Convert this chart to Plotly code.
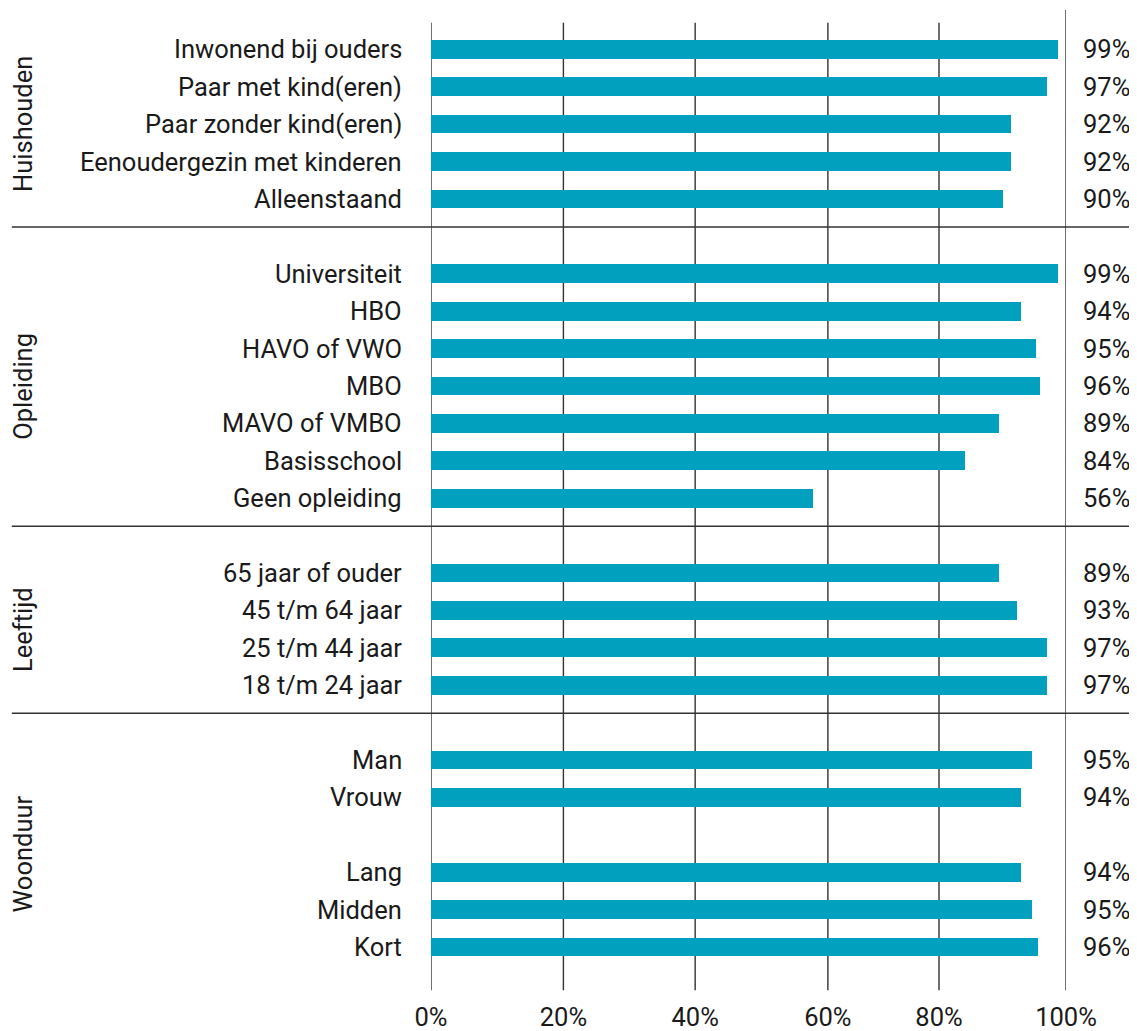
import plotly.graph_objects as go

# ---- data ----
groups = ["Huishouden", "Opleiding", "Leeftijd", "Woonduur"]

huishouden_cat = ["Inwonend bij ouders", "Paar met kind(eren)", "Paar zonder kind(eren)",
                  "Eenoudergezin met kinderen", "Alleenstaand"]
huishouden_val = [98.7, 97.0, 91.3, 91.3, 90.1]
huishouden_lbl = ["99%", "97%", "92%", "92%", "90%"]

opleiding_cat = ["Universiteit", "HBO", "HAVO of VWO", "MBO", "MAVO of VMBO",
                 "Basisschool", "Geen opleiding"]
opleiding_val = [98.7, 92.9, 95.3, 95.9, 89.5, 84.1, 60.2]
opleiding_lbl = ["99%", "94%", "95%", "96%", "89%", "84%", "56%"]

leeftijd_cat = ["65 jaar of ouder", "45 t/m 64 jaar", "25 t/m 44 jaar", "18 t/m 24 jaar"]
leeftijd_val = [89.5, 92.3, 97.0, 97.0]
leeftijd_lbl = ["89%", "93%", "97%", "97%"]

woonduur_cat_a = ["Man", "Vrouw"]
woonduur_val_a = [94.7, 92.9]
woonduur_lbl_a = ["95%", "94%"]
woonduur_cat_b = ["Lang", "Midden", "Kort"]
woonduur_val_b = [92.9, 94.7, 95.6]
woonduur_lbl_b = ["94%", "95%", "96%"]

tick_labels = ["0%", "20%", "40%", "60%", "80%", "100%"]
grid_pos = [0, 20.85, 41.6, 62.5, 80.0, 100]   # where the reference draws its grid lines

# ---- build rows (blank row between subgroups / groups) ----
group_blocks = [
    [(huishouden_cat, huishouden_val, huishouden_lbl)],
    [(opleiding_cat, opleiding_val, opleiding_lbl)],
    [(leeftijd_cat, leeftijd_val, leeftijd_lbl)],
    [(woonduur_cat_a, woonduur_val_a, woonduur_lbl_a),
     (woonduur_cat_b, woonduur_val_b, woonduur_lbl_b)],
]

rows_y, rows_cat, rows_val, rows_lbl = [], [], [], []
group_rows = []
r = 0
for gi, blocks in enumerate(group_blocks):
    start = r
    for bi, (cats, vals, lbls) in enumerate(blocks):
        if bi > 0:
            r += 1
        for c, v, l in zip(cats, vals, lbls):
            rows_y.append(r); rows_cat.append(c); rows_val.append(v); rows_lbl.append(l)
            r += 1
    group_rows.append((start, r - 1))
    r += 1

FONT = "Roboto"
TXT = "#1a1a1a"
LINE = "#333333"
FS = 25.5

fig = go.Figure(go.Bar(
    x=rows_val, y=rows_y, orientation="h", width=0.5,
    marker=dict(color="#00A0BE", line=dict(width=0)),
    hoverinfo="skip",
))

OFF = 8            # page body margin of the html page
W, H = 1137 - OFF, 1031 - OFF
L, R = 430.5 - OFF, 1066 - OFF
T, B = 10 - OFF, 992 - OFF
ppx = R - L

def px_to_paper_x(px):
    return (px - OFF - L) / ppx

shapes = []
# vertical grid lines
for i, g in enumerate(grid_pos):
    shapes.append(dict(type="line", xref="x", yref="y", x0=g, x1=g,
                       y0=-1.05 if g == grid_pos[-1] else -0.71, y1=25.15,
                       line=dict(color=LINE, width=1.4), layer="below"))
# horizontal separators between groups
for (s, e) in group_rows[:-1]:
    shapes.append(dict(type="line", xref="paper", yref="y",
                       x0=px_to_paper_x(11), x1=px_to_paper_x(1140),
                       y0=e + 0.75, y1=e + 0.75,
                       line=dict(color=LINE, width=1.6)))

annotations = []
for y, c, l in zip(rows_y, rows_cat, rows_lbl):
    annotations.append(dict(x=px_to_paper_x(403), xref="paper", y=y, yref="y",
                            text=c, showarrow=False, xanchor="right", yanchor="middle",
                            font=dict(family=FONT, size=FS, color=TXT)))
    annotations.append(dict(x=px_to_paper_x(1132), xref="paper", y=y, yref="y",
                            text=l, showarrow=False, xanchor="right", yanchor="middle",
                            font=dict(family=FONT, size=FS, color=TXT)))
for gname, (s, e) in zip(groups, group_rows):
    annotations.append(dict(x=px_to_paper_x(22), xref="paper", y=(s + e) / 2, yref="y",
                            text=gname, showarrow=False, textangle=-90,
                            xanchor="center", yanchor="middle",
                            font=dict(family=FONT, size=FS, color=TXT)))

fig.update_layout(
    width=W, height=H,
    margin=dict(l=L, r=W - R, t=T, b=H - B, pad=0, autoexpand=False),
    paper_bgcolor="white", plot_bgcolor="white",
    showlegend=False,
    shapes=shapes, annotations=annotations,
    xaxis=dict(range=[0, 100], tickvals=grid_pos, ticktext=tick_labels,
               showgrid=False, zeroline=False, showline=False, automargin=False,
               ticks="outside", ticklen=2, tickcolor="rgba(0,0,0,0)",
               tickfont=dict(family=FONT, size=FS, color=TXT), fixedrange=True),
    yaxis=dict(range=[25.2, -1.05], showticklabels=False, showgrid=False,
               zeroline=False, showline=False, fixedrange=True, automargin=False),
    bargap=0,
)

fig.write_html("out.html")
